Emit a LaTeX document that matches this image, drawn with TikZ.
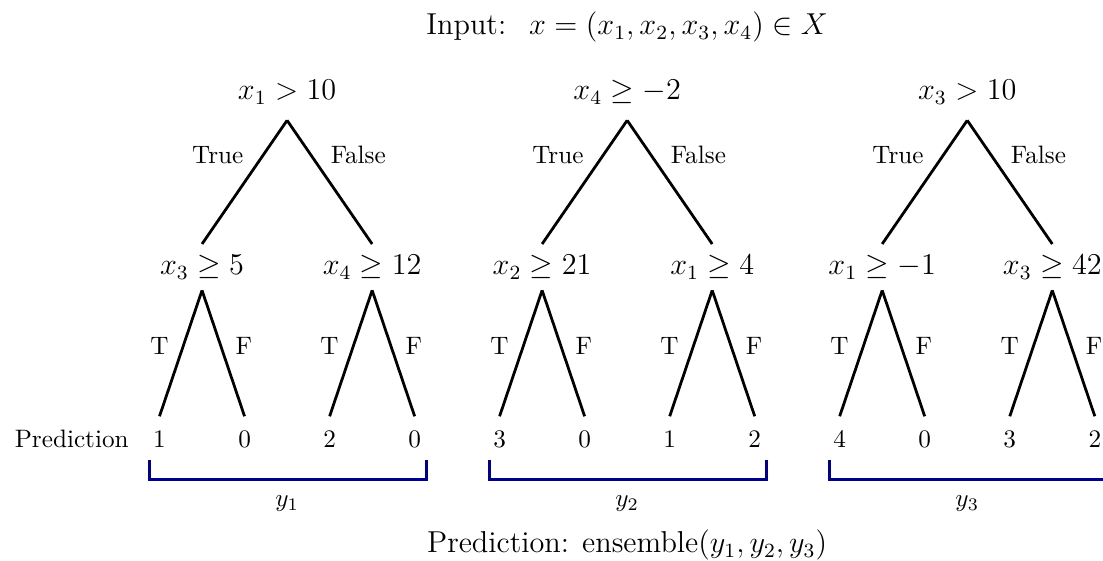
\documentclass[tikz,border=0pt]{standalone}
\usepackage{amsmath,amssymb}
\usepackage{tikz}
\usetikzlibrary{calc,positioning}
\definecolor{bracketblue}{HTML}{000090}

\begin{document}
\begin{tikzpicture}[
  split/.style={font=\large,text height=8pt,text depth=2pt,inner ysep=4pt},
  rootsplit/.style={split,inner ysep=6pt},
  leaf/.style={text height=6.5pt,text depth=0pt,inner xsep=2pt,inner ysep=5.8pt},
  branch/.style={line width=1.1pt},
  bracket/.style={bracketblue,line width=1.2pt}]
  \def\w{4.742}
  \def\dx{0.593}
  \useasboundingbox (0,0) rectangle (15.38,7.82);
  \node[font=\large,anchor=base] (input) at (8.745,7.336) {Input: \ $x=(x_1,x_2,x_3,x_4)\in X$};
  \foreach \rt/\sa/\sb/\va/\vb/\vc/\vd [count=\i] in {
      {$x_1>10$}/{$x_3\geq 5$}/{$x_4\geq 12$}/1/0/2/0,
      {$x_4\geq -2$}/{$x_2\geq 21$}/{$x_1\geq 4$}/3/0/1/2,
      {$x_3>10$}/{$x_1\geq -1$}/{$x_3\geq 42$}/4/0/3/2}{
    \pgfmathsetmacro\cx{4.003+\w*(\i-1)}
    \node[rootsplit,anchor=base] (r\i) at (\cx,6.43) {\rt};
    \node[split,anchor=base] (sl\i) at (\cx-2*\dx,3.989) {\sa};
    \node[split,anchor=base] (sr\i) at (\cx+2*\dx,3.989) {\sb};
    \node[leaf,anchor=base] (l\i1) at (\cx-3*\dx,1.576) {\va};
    \node[leaf,anchor=base] (l\i2) at (\cx-\dx,1.576) {\vb};
    \node[leaf,anchor=base] (l\i3) at (\cx+\dx,1.576) {\vc};
    \node[leaf,anchor=base] (l\i4) at (\cx+3*\dx,1.576) {\vd};
    \draw[branch] (r\i.south) -- node[pos=0.28,left=4pt] {True} (sl\i.north);
    \draw[branch] (r\i.south) -- node[pos=0.28,right=4pt] {False} (sr\i.north);
    \draw[branch] (sl\i.south) -- node[pos=0.44,left=2pt] {T} (l\i1.north);
    \draw[branch] (sl\i.south) -- node[pos=0.44,right=2pt] {F} (l\i2.north);
    \draw[branch] (sr\i.south) -- node[pos=0.44,left=2pt] {T} (l\i3.north);
    \draw[branch] (sr\i.south) -- node[pos=0.44,right=2pt] {F} (l\i4.north);
    % bracket under the leaves
    \draw[bracket] ({\cx-1.92},1.41) |- ({\cx+1.946},1.13) -- ({\cx+1.946},1.41);
    \node[anchor=base] (y\i) at (\cx,0.753) {$y_\i$};
  }
  \node[base left=4pt of l11] (predlabel) {Prediction};
  \node[font=\large,anchor=base] (output) at (8.745,0.112) {Prediction: ensemble$(y_1,y_2,y_3)$};
\end{tikzpicture}
\end{document}
